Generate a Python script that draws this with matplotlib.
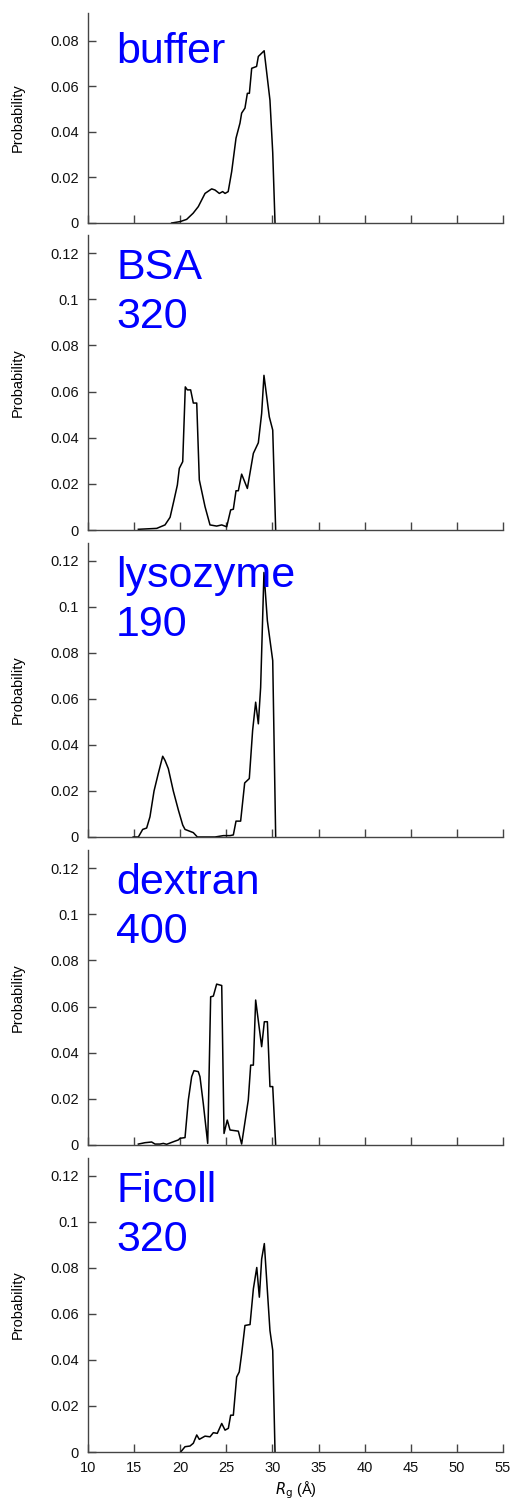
import matplotlib
matplotlib.use("Agg")
import matplotlib.pyplot as plt
from matplotlib.ticker import FormatStrFormatter, MultipleLocator

plt.rcParams["font.family"] = ["Liberation Sans", "DejaVu Sans"]

# Rg distributions (Å, probability) for each crowding condition
buffer_rg = [19.07, 19.98, 20.7, 21.4, 21.96, 22.69, 23.41, 23.77, 24.24, 24.6, 24.86,
             25.2, 25.58, 26.05, 26.48, 26.66, 27.02, 27.28, 27.5, 27.75, 28.28, 28.47,
             29.1, 29.73, 30.03, 30.28]
buffer_p = [0.0, 0.0006, 0.0016, 0.0043, 0.0072, 0.013, 0.015, 0.0145, 0.013, 0.0138, 0.013,
            0.0138, 0.0226, 0.0373, 0.0439, 0.0483, 0.0505, 0.057, 0.057, 0.068, 0.0688, 0.0732,
            0.0757, 0.054, 0.031, 0.0]

bsa_rg = [15.46, 17.45, 18.35, 18.9, 19.33, 19.69, 19.9, 20.27, 20.55, 20.77, 21.13, 21.42,
          21.79, 22.07, 22.69, 23.23, 23.95, 24.5, 25.04, 25.47, 25.76, 26.05, 26.3, 26.66,
          27.28, 27.93, 28.47, 28.83, 29.08, 29.66, 30.03, 30.35]
bsa_p = [0.0003, 0.0007, 0.0022, 0.0055, 0.013, 0.0195, 0.0267, 0.0296, 0.062, 0.0607, 0.0607,
         0.055, 0.055, 0.0217, 0.0101, 0.0022, 0.0017, 0.0022, 0.0014, 0.0087, 0.009, 0.017,
         0.017, 0.0242, 0.018, 0.0332, 0.0378, 0.0505, 0.067, 0.049, 0.0433, 0.0]

lys_rg = [14.9, 15.46, 15.93, 16.36, 16.72, 17.16, 17.62, 18.1, 18.35, 18.71, 19.25, 19.8,
          20.27, 20.52, 21.42, 21.86, 22.87, 23.77, 24.68, 25.4, 25.76, 26.05, 26.55, 26.99,
          27.49, 27.85, 28.18, 28.47, 28.72, 29.08, 29.45, 30.03, 30.35]
lys_p = [0.0, 0.0, 0.0033, 0.0039, 0.0088, 0.020, 0.0276, 0.0351, 0.0333, 0.0297, 0.020, 0.0117,
         0.0052, 0.0033, 0.0019, 0.0, 0.0, 0.0, 0.0006, 0.0006, 0.0009, 0.0069, 0.0069, 0.0235,
         0.0254, 0.0463, 0.0586, 0.0492, 0.065, 0.115, 0.094, 0.0767, 0.0]

dex_rg = [15.46, 16.18, 16.9, 17.27, 17.8, 18.17, 18.53, 19.25, 19.8, 19.98, 20.52, 20.88,
          21.24, 21.49, 21.96, 22.14, 22.5, 22.98, 23.3, 23.59, 23.95, 24.5, 24.75, 25.1, 25.4,
          26.3, 26.66, 27.38, 27.64, 27.93, 28.18, 28.83, 29.12, 29.45, 29.73, 30.03, 30.35]
dex_p = [0.0004, 0.001, 0.0013, 0.0004, 0.0004, 0.0007, 0.0003, 0.0014, 0.0022, 0.0029, 0.0032,
         0.0195, 0.0296, 0.0322, 0.0318, 0.0296, 0.018, 0.0007, 0.0642, 0.0645, 0.0697, 0.0691,
         0.005, 0.0108, 0.0065, 0.006, 0.0004, 0.0195, 0.0346, 0.0346, 0.0628, 0.0426, 0.0534,
         0.0534, 0.0253, 0.0253, 0.0]

fic_rg = [20.05, 20.52, 21.06, 21.42, 21.79, 22.07, 22.69, 23.23, 23.59, 24.02, 24.5, 24.86,
          25.22, 25.47, 25.76, 26.12, 26.4, 26.66, 27.02, 27.57, 27.93, 28.3, 28.58, 28.83,
          29.12, 29.73, 30.03, 30.28]
fic_p = [0.0, 0.0023, 0.0026, 0.0038, 0.0074, 0.0055, 0.0069, 0.0066, 0.0084, 0.0081, 0.0124,
         0.0095, 0.0103, 0.016, 0.016, 0.0326, 0.0348, 0.0427, 0.055, 0.0554, 0.0709, 0.0802,
         0.0673, 0.0839, 0.0906, 0.0528, 0.0442, 0.0]

labels = ["buffer", "BSA\n320", "lysozyme\n190", "dextran\n400", "Ficoll\n320"]
series = [(buffer_rg, buffer_p), (bsa_rg, bsa_p), (lys_rg, lys_p),
          (dex_rg, dex_p), (fic_rg, fic_p)]
ymax = [0.0923, 0.1278, 0.1278, 0.1278, 0.1278]
ytick_max = [0.08, 0.12, 0.12, 0.12, 0.12]

W, H = 516, 1502
fig = plt.figure(figsize=(W / 100, H / 100), dpi=100)

# panel extents in pixels (top, bottom) and label top offsets
extents = [(13, 223), (235, 530), (543, 837), (850, 1145), (1158, 1452)]
label_top = [19, 13, 13, 13, 13]
left_px, right_px = 88, 503
spine_col = "#444444"

for i, ((top, bot), (xs, ys), lab) in enumerate(zip(extents, series, labels)):
    ax = fig.add_axes([left_px / W, 1 - bot / H, (right_px - left_px) / W, (bot - top) / H])
    ax.plot(xs, ys, color="black", lw=1.1)
    ax.set_xlim(10, 55)
    ax.set_ylim(0, ymax[i])
    ax.xaxis.set_major_locator(MultipleLocator(5))
    n = int(round(ytick_max[i] / 0.02))
    ax.set_yticks([0.02 * k for k in range(n + 1)])
    ax.yaxis.set_major_formatter(FormatStrFormatter("%g"))
    for s in ("top", "right"):
        ax.spines[s].set_visible(False)
    for s in ("left", "bottom"):
        ax.spines[s].set_color(spine_col)
        ax.spines[s].set_linewidth(1.0)
    ax.tick_params(direction="in", length=6, width=1.0, color=spine_col,
                   labelsize=10.5, pad=6.5, labelcolor="#111111")
    if i < len(extents) - 1:
        ax.tick_params(axis="x", labelbottom=False)
    else:
        ax.set_xlabel(r"$R_{\mathrm{g}}$ (Å)", fontsize=10.5, labelpad=3)
    ax.set_ylabel("Probability", fontsize=10.5)
    ax.yaxis.set_label_coords(-(left_px - 25) / (right_px - left_px), 0.5)
    h = bot - top
    ax.text(0.068, 1 - label_top[i] / h, lab, transform=ax.transAxes, color="#0000ff",
            fontsize=31, va="top", ha="left", linespacing=1.3)

fig.savefig("out.png", dpi=100)
